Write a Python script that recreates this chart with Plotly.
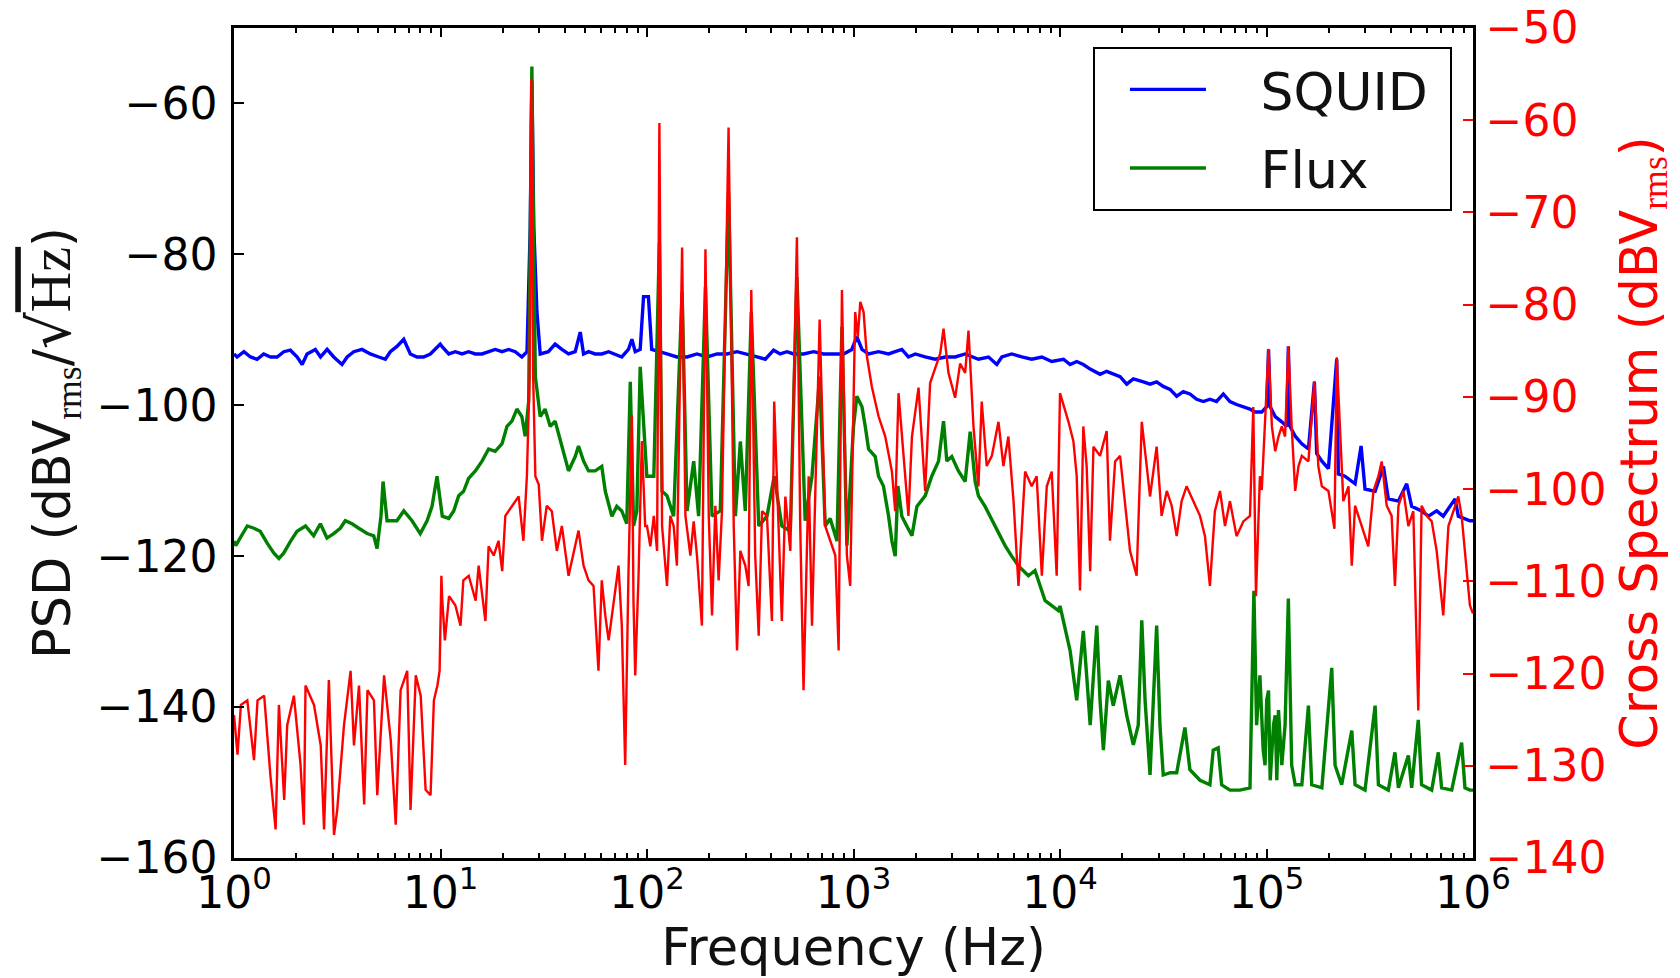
import plotly.graph_objects as go

# ---------------- data ----------------
squid_freq = [1.0, 1.035, 1.117, 1.202, 1.294, 1.393, 1.503, 1.618, 1.742, 1.875, 2.023, 2.138, 2.259,
              2.477, 2.624, 2.825, 3.041, 3.334, 3.532, 3.802, 4.169, 4.571, 5.023, 5.408, 5.715, 6.152,
              6.637, 7.145, 7.691, 8.279, 8.93, 9.977,
              10.16, 10.96, 11.8, 12.71, 13.68, 14.75, 15.89, 17.1, 18.41, 19.86, 21.38, 23.01, 24.77,
              26.24, 27.2, 27.7, 28.3, 29.3, 30.4, 33.3, 35.9, 38.7, 41.7, 44.9, 47.5, 49.3, 52.1, 56.1,
              60.4, 65.2, 70.1, 75.5, 81.3, 84.5, 87.7, 92.7, 96.2, 101.6, 105.4,
              116.1, 125.0, 139.6, 156.3, 174.6, 195.4, 218.3, 243.8, 272.9, 304.8, 341.2, 374.1, 410.2,
              441.6, 476.4, 512.9, 572.8, 641.2, 716.1, 799.8, 895.4,
              981.8, 1038, 1099, 1183, 1322, 1479, 1592, 1714, 1845, 1991, 2223, 2485, 2780, 3105, 3473,
              3741, 4027, 4508, 4943, 5228, 5834, 6531, 7295, 8166, 9120,
              10400, 11190, 12050, 12970, 14000, 15630, 16830, 18110, 19540, 21040, 22650, 25350, 27290,
              29380, 31620, 34120, 36730, 39540, 42560, 45920, 49430, 53210, 57280, 61800, 66530, 71620,
              77270, 83180, 87900,
              94840, 100200, 102300, 104200, 110200, 118600, 125300, 127600, 130000, 137700, 148300,
              159600, 170600, 175000, 185400, 199500, 218800, 222800, 239900, 268500, 287100, 299900,
              335700, 368300, 389000, 435500, 477500, 504700, 563600, 608100, 666800, 717800, 818400,
              849200, 914100, 966000, 1000000]
squid_psd = [-93.2, -93.6, -92.9, -93.6, -93.9, -93.2, -93.6, -93.6, -92.9, -92.7, -93.6, -94.6, -93.2,
             -92.6, -93.6, -92.6, -93.6, -94.6, -93.6, -92.9, -92.6, -93.2, -93.6, -93.9, -92.9, -92.2,
             -91.25, -93.2, -93.6, -93.6, -93.2, -91.9,
             -92.2, -93.2, -92.9, -93.2, -92.9, -93.2, -93.2, -92.9, -92.6, -92.9, -92.6, -92.9, -93.6,
             -92.9, -76.4, -57.0, -76.4, -87.6, -93.2, -92.9, -91.9, -92.6, -93.2, -92.9, -90.3, -93.2,
             -92.9, -93.2, -93.2, -92.9, -93.2, -93.6, -92.6, -91.25, -92.9, -92.6, -85.6, -85.6, -92.6,
             -92.9, -93.2, -93.6, -93.6, -93.2, -93.6, -93.2, -93.2, -92.9, -93.2, -93.6, -93.9, -92.7,
             -93.2, -92.9, -93.2, -93.2, -92.9, -93.2, -93.2, -93.2,
             -92.6, -90.9, -92.6, -93.2, -92.9, -93.2, -92.9, -92.6, -93.6, -93.2, -93.6, -93.9, -93.6,
             -93.6, -93.2, -93.6, -93.9, -93.6, -94.6, -93.6, -93.2, -93.6, -93.9, -93.6, -94.2,
             -93.9, -94.6, -94.2, -94.6, -95.2, -95.9, -95.5, -95.9, -96.2, -97.2, -96.5, -96.9, -97.2,
             -96.9, -97.5, -97.9, -98.8, -98.2, -98.5, -99.2, -99.5, -99.2, -99.5, -98.5, -99.5, -99.9,
             -100.2, -100.5, -100.9,
             -100.9, -100.2, -92.6, -100.2, -101.5, -102.2, -102.8, -92.2, -102.8, -104.1, -105.1,
             -105.8, -96.9, -106.4, -107.4, -108.4, -93.9, -109.1, -109.4, -110.4, -105.4, -111.1,
             -111.4, -108.1, -112.4, -112.7, -110.4, -113.4, -114.0, -114.7, -114.0, -114.7, -112.4,
             -114.7, -115.0, -115.3, -115.3]

flux_freq = [1.0, 1.02, 1.07, 1.16, 1.25, 1.34, 1.45, 1.56, 1.65, 1.74, 1.88, 2.02, 2.22, 2.43, 2.62,
             2.82, 3.04, 3.27, 3.46, 3.73, 4.02, 4.41, 4.75, 4.93, 5.15, 5.27, 5.51, 6.15, 6.64, 7.28,
             7.98, 8.61, 9.10, 9.62, 10.2,
             10.96, 11.59, 12.25, 12.94, 13.68, 14.75, 15.89, 17.10, 18.41, 19.86, 20.99, 22.18, 23.44,
             24.77, 25.70, 26.73, 27.3, 27.7, 28.2, 28.8, 30.4, 32.1, 34.0, 35.9, 38.7, 41.7, 44.9,
             46.6, 49.3, 52.1, 56.1, 60.4, 62.8, 67.6, 71.4, 75.5, 79.8, 83.0, 86.1, 89.3, 92.7, 96.2,
             99.8,
             107.9, 114.8, 118.3, 125.0, 134.6, 147.9, 156.3, 168.3, 177.8, 191.9, 206.5, 226.5, 248.3,
             267.9, 283.1, 299.2, 319.9, 347.5, 381.1, 413.0, 449.8, 494.3, 532.1, 583.4, 629.5, 685.5,
             729.5, 771.0, 831.8, 879.0, 929.0,
             1000, 1038, 1099, 1140, 1183, 1274, 1322, 1396, 1479, 1535, 1592, 1641, 1714, 1811, 1919,
             2028, 2223, 2393, 2582, 2729, 2831, 2992, 3221, 3473, 3673, 3882, 4027, 4335, 4853, 5420,
             5834, 6295, 7031, 7568, 8472, 9120, 9817,
             10000, 10790, 11190, 12050, 12970, 13460, 14000, 15070, 15630, 16220, 17140, 18110, 19540,
             21040, 22650, 23930, 24890, 25820, 27290, 29380, 30480, 31620, 34120, 36730, 40270, 42560,
             47640, 53210, 55210, 58340, 60670, 66530, 74300, 83180, 86900, 89540, 92900, 96390,
             98400, 100200, 102300, 104200, 108100, 110200, 112200, 114300, 118600, 123000, 127600,
             132400, 137700, 148300, 159600, 165600, 185400, 207000, 214800, 231200, 258800, 268500,
             299900, 335700, 348300, 389000, 418800, 435500, 486400, 504700, 543300, 563600, 631000,
             679200, 704700, 788900, 881000, 914100, 966000, 1000000]
flux_psd = [-118.0, -118.6, -117.6, -116.0, -116.3, -116.7, -118.3, -119.6, -120.3, -119.6, -118.0,
            -116.7, -116.0, -117.3, -115.7, -117.6, -117.0, -116.3, -115.3, -115.7, -116.3, -117.0,
            -117.3, -119.0, -114.7, -110.1, -115.3, -115.3, -114.0, -115.3, -117.0, -115.3, -113.4,
            -109.4, -114.7,
            -115.0, -114.0, -112.0, -111.4, -109.7, -108.7, -107.4, -105.8, -106.1, -105.1, -102.8,
            -102.1, -100.5, -101.5, -104.1, -99.5, -76.4, -55.1, -76.4, -96.2, -101.5, -100.5, -102.8,
            -102.1, -105.4, -108.7, -106.8, -105.4, -107.4, -108.7, -108.7, -108.1, -111.4, -114.7,
            -113.4, -114.0, -115.7, -96.9, -116.0, -114.0, -94.9, -102.8, -109.4,
            -109.4, -78.4, -111.4, -112.0, -114.7, -85.0, -114.0, -107.4, -114.7, -84.3, -114.7, -114.0,
            -71.8, -114.7, -104.8, -114.0, -87.6, -116.0, -114.7, -109.4, -116.0, -116.7, -83.0,
            -115.3, -109.4, -96.2, -116.0, -115.0, -118.0, -89.6, -118.6,
            -102.8, -98.8, -100.2, -102.8, -105.8, -106.8, -109.4, -110.7, -114.7, -118.0, -120.0,
            -110.7, -114.7, -116.0, -117.3, -113.4, -112.0, -109.4, -107.4, -102.1, -107.4, -106.8,
            -108.7, -110.1, -103.5, -110.1, -112.0, -113.4, -116.0, -118.6, -120.0, -121.3, -122.6,
            -121.9, -125.9, -126.6, -127.2,
            -126.6, -130.5, -132.5, -139.1, -129.9, -135.8, -142.4, -129.2, -139.1, -145.7, -136.5,
            -139.8, -135.8, -141.1, -145.0, -142.4, -128.5, -139.1, -149.0, -129.2, -142.4, -149.0,
            -148.7, -148.7, -142.7, -148.3, -149.7, -150.3, -145.7, -145.4, -150.3, -151.0, -151.0,
            -150.7, -124.6, -142.4, -135.8, -145.7,
            -147.7, -139.1, -137.8, -149.7, -142.4, -141.1, -149.7, -140.4, -147.7, -142.4, -125.6,
            -147.7, -150.3, -150.3, -139.8, -150.3, -150.7, -134.8, -147.7, -150.3, -143.1, -150.3,
            -151.0, -139.8, -150.3, -151.0, -146.0, -150.7, -146.4, -150.7, -141.7, -150.3, -151.0,
            -146.0, -150.7, -151.0, -144.7, -150.7, -151.0, -151.0]

cross_freq = [1.0, 1.04, 1.08, 1.16, 1.25, 1.30, 1.40, 1.50, 1.59, 1.65, 1.75, 1.81, 1.95, 2.10, 2.18,
              2.22, 2.44, 2.63, 2.73, 2.88, 3.05, 3.16, 3.41, 3.67, 3.81, 4.03, 4.27, 4.43, 4.76, 4.94,
              5.33, 5.74, 6.07, 6.41, 6.90, 7.16, 7.59, 8.02, 8.47, 8.95, 9.29, 9.66, 9.9,
              10.1, 10.2, 10.5, 11.0, 11.8, 12.5, 12.9, 13.7, 14.8, 15.3, 15.9, 16.5, 17.1, 18.1, 19.1,
              19.9, 20.6, 22.2, 23.9, 25.2, 26.2, 27.0, 27.5, 28.1, 28.8, 29.9, 31.0, 32.7, 34.6, 36.6,
              38.7, 41.7, 44.9, 46.6, 49.3, 52.1, 55.1, 58.2, 60.4, 62.8, 65.2, 68.9, 72.8, 75.5, 78.4,
              81.3, 84.5, 86.0, 87.7, 91.0, 94.4, 98.0,
              100.0, 103.8, 107.9, 111.9, 114.8, 118.3, 125.0, 129.7, 134.6, 139.6, 147.9, 153.5,
              162.2, 168.3, 174.6, 184.5, 191.9, 199.1, 206.5, 214.3, 222.3, 230.7, 248.3, 263.0,
              272.9, 283.1, 299.2, 310.5, 319.9, 334.2, 347.5, 360.6, 381.1, 402.7, 413.0, 433.5,
              449.8, 467.7, 494.3, 532.1, 552.1, 572.8, 606.7, 629.5, 685.5, 729.5, 771.0, 816.6,
              847.2, 879.0, 929.0, 963.8,
              1019, 1049, 1079, 1119, 1161, 1227, 1322, 1425, 1535, 1592, 1652, 1746, 1845, 1919, 2065,
              2223, 2350, 2485, 2630, 2729, 2884, 3105, 3283, 3473, 3605, 3811, 4027, 4178, 4417, 4677,
              5035, 5321, 5623, 5957, 6295, 6776, 7295, 7709, 8166, 8630, 9120, 9638, 10000,
              10990, 11610, 12050, 12500, 12970, 13460, 14000, 14520, 15630, 16830, 17460, 18490,
              19540, 20650, 21830, 23500, 24890, 26300, 27290, 29380, 31050, 32890, 34750, 36730,
              38820, 41020, 44260, 47640, 50350, 53210, 56230, 59570, 62950, 66530, 71620, 77270,
              83180, 86300, 88920, 92900,
              94840, 98400, 102300, 106200, 110200, 114300, 118600, 123000, 127600, 132400, 137700,
              142900, 148300, 159600, 170600, 178200, 185400, 199500, 213300, 218800, 227000, 235500,
              249500, 258800, 268500, 289100, 311200, 329600, 348300, 361400, 382100, 403600, 418800,
              435500, 460300, 486400, 514000, 543300, 563600, 597000, 631000, 666800, 717800, 760300,
              803500, 849200, 881000, 914100, 966000, 1000000]
cross_db = [-124.5, -128.8, -123.4, -122.9, -129.4, -122.9, -122.4, -131.0, -136.9, -123.4, -133.7,
            -125.6, -122.4, -129.9, -136.4, -121.3, -123.4, -127.8, -136.9, -120.7, -137.5, -134.8,
            -125.6, -119.7, -127.8, -121.3, -134.2, -121.8, -122.9, -133.2, -120.2, -127.2, -136.4,
            -121.8, -119.7, -134.8, -120.2, -122.4, -132.6, -133.2, -122.9, -121.3, -119.7,
            -109.4, -112.1, -116.4, -111.6, -112.6, -114.8, -109.9, -109.4, -112.1, -108.3, -111.6,
            -114.3, -106.2, -107.2, -105.6, -108.9, -102.9, -101.8, -100.8, -105.6, -98.6, -87.8,
            -55.5, -87.8, -98.6, -99.5, -105.6, -101.8, -102.4, -106.7, -104.0, -109.4, -106.2,
            -104.5, -108.3, -109.9, -110.5, -119.7, -109.9, -113.7, -116.4, -112.6, -108.3, -114.8,
            -129.9, -109.4, -92.0, -112.1, -120.2, -109.4, -94.8, -104.0,
            -104.0, -106.2, -102.9, -106.7, -60.3, -104.0, -110.5, -102.9, -104.0, -108.3, -73.8,
            -102.9, -107.2, -103.5, -107.2, -114.8, -74.0, -102.9, -113.7, -101.8, -109.9, -102.4,
            -60.8, -104.0, -117.5, -106.7, -108.3, -110.5, -78.4, -107.2, -115.9, -102.4, -102.9,
            -114.3, -90.5, -104.0, -114.3, -100.8, -106.7, -72.7, -104.0, -121.8, -98.6, -114.8,
            -81.6, -104.0, -105.6, -107.2, -117.5, -78.4, -107.2, -110.5,
            -80.8, -83.5, -79.7, -80.8, -85.6, -88.9, -92.1, -94.3, -98.1, -102.4, -89.6, -95.9,
            -102.9, -94.3, -89.0, -100.2, -88.5, -86.9, -85.3, -82.6, -87.4, -90.1, -86.4, -87.4,
            -82.8, -93.2, -99.7, -90.5, -97.5, -96.4, -92.7, -97.5, -94.3, -101.3, -110.5, -98.1,
            -99.7, -98.6, -109.4, -99.7, -98.1, -109.4, -89.6,
            -92.7, -94.8, -98.6, -111.0, -93.2, -97.5, -108.9, -95.4, -96.4, -93.7, -105.6, -97.0,
            -96.4, -101.3, -106.7, -109.4, -92.7, -97.5, -100.8, -95.4, -102.9, -100.2, -101.8,
            -105.1, -101.3, -99.7, -101.3, -102.9, -105.1, -110.5, -102.4, -100.2, -104.0, -101.3,
            -105.1, -103.5, -102.9, -91.1, -111.6, -98.6,
            -100.1, -93.2, -84.8, -93.2, -95.9, -94.3, -93.2, -94.3, -84.5, -93.2, -100.2, -97.5,
            -96.4, -97.0, -88.3, -97.5, -99.7, -100.2, -104.3, -85.7, -93.2, -101.3, -99.7, -108.3,
            -101.8, -104.0, -106.2, -100.2, -98.6, -97.0, -101.8, -102.9, -110.5, -101.8, -100.2,
            -104.0, -102.4, -124.0, -101.8, -102.9, -103.5, -106.7, -113.7, -104.0, -102.4, -100.8,
            -102.9, -106.7, -112.6, -113.5]

x_tick_vals = [1, 10, 100, 1000, 10000, 100000, 1000000]
x_tick_text = ["10<sup>0</sup>", "10<sup>1</sup>", "10<sup>2</sup>", "10<sup>3</sup>",
               "10<sup>4</sup>", "10<sup>5</sup>", "10<sup>6</sup>"]
left_tick_vals = [-160, -140, -120, -100, -80, -60]
right_tick_vals = [-140, -130, -120, -110, -100, -90, -80, -70, -60, -50]

minor_vals = [m * 10 ** d for d in range(6) for m in range(2, 10)]

FONT = "DejaVu Sans"
NB = "\u00a0"

fig = go.Figure()
fig.add_trace(go.Scatter(x=squid_freq, y=squid_psd, mode="lines", name=NB * 3 + "SQUID" + NB,
                         legendgroup="a", line=dict(color="#0000ff", width=3.4)))
fig.add_trace(go.Scatter(x=flux_freq, y=flux_psd, mode="lines", name=NB * 3 + "Flux",
                         legendgroup="b", line=dict(color="#008000", width=3.4)))
fig.add_trace(go.Scatter(x=cross_freq, y=cross_db, mode="lines", name="Cross Spectrum",
                         yaxis="y2", showlegend=False, line=dict(color="#ff0000", width=2.4)))

fig.update_layout(
    width=1680, height=978,
    margin=dict(l=234, r=207, t=28, b=120),
    paper_bgcolor="white", plot_bgcolor="white",
    font=dict(family=FONT, color="black"),
    xaxis=dict(
        type="log", range=[0, 6], tickmode="array", tickvals=x_tick_vals, ticktext=x_tick_text,
        ticks="inside", ticklen=9, tickwidth=2, tickcolor="black",
        showline=True, linecolor="black", linewidth=2.5, mirror="ticks",
        showgrid=False, zeroline=False, automargin=False, ticklabelstandoff=-6,
        ticklabeloverflow="allow",
        tickfont=dict(family=FONT, size=44, color="black"),
        minor=dict(tickmode="array", tickvals=minor_vals, ticks="inside", ticklen=5,
                   tickwidth=1.5, tickcolor="black", showgrid=False),
        title=dict(text="Frequency (Hz)", font=dict(family=FONT, size=51, color="#111111"),
                   standoff=8),
    ),
    yaxis=dict(
        range=[-160, -50], tickmode="array", tickvals=left_tick_vals,
        ticks="inside", ticklen=10, tickwidth=2, tickcolor="black",
        showline=True, linecolor="black", linewidth=2.5, mirror=False,
        showgrid=False, zeroline=False, automargin=False, ticklabelstandoff=5,
        ticklabeloverflow="allow",
        tickfont=dict(family=FONT, size=44, color="black"),
        title=dict(text='PSD (dBV<sub><span style="font-family:Liberation Serif">rms</span></sub>'
                        '/<span style="font-size:58px">√</span><span style="font-family:Liberation Serif;'
                        'font-size:56px;text-decoration:overline">Hz</span>)',
                   font=dict(family=FONT, size=51, color="#111111"), standoff=10),
    ),
    yaxis2=dict(
        overlaying="y", side="right", anchor="x",
        range=[-140, -50], tickmode="array", tickvals=right_tick_vals,
        ticks="inside", ticklen=10, tickwidth=2, tickcolor="#ff0000",
        showline=True, linecolor="black", linewidth=2.5,
        showgrid=False, zeroline=False, automargin=False, ticklabelstandoff=1,
        ticklabeloverflow="allow",
        tickfont=dict(family=FONT, size=44, color="#ff0000"),
        title=dict(text='Cross Spectrum (dBV<sub><span style="font-family:Liberation Serif">rms</span></sub>)',
                   font=dict(family=FONT, size=51, color="#ff0000"), standoff=16),
    ),
    legend=dict(
        x=0.983, y=0.977, xanchor="right", yanchor="top",
        bgcolor="white", bordercolor="black", borderwidth=2,
        font=dict(family=FONT, size=52, color="#111111"),
        tracegroupgap=8, itemwidth=76, indentation=30,
    ),
    showlegend=True,
)

fig.write_html("out.html", config={"displayModeBar": False},
               post_script="document.body.style.margin='0px';")
